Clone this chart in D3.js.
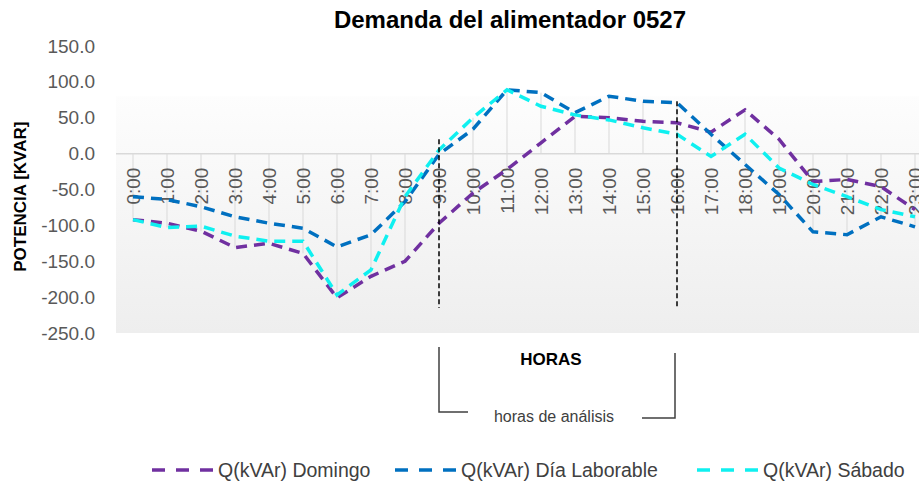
<!DOCTYPE html>
<html>
<head>
<meta charset="utf-8">
<script src="https://cdn.jsdelivr.net/npm/d3@7"></script>
<style>
  html, body { margin: 0; padding: 0; background: #ffffff; }
  svg { display: block; font-family: "Liberation Sans", Arial, sans-serif; }
</style>
</head>
<body>
<svg id="grafico" width="919" height="485"></svg>
<script>
// datos
const horas = ["0:00","1:00","2:00","3:00","4:00","5:00","6:00","7:00","8:00","9:00","10:00","11:00",
  "12:00","13:00","14:00","15:00","16:00","17:00","18:00","19:00","20:00","21:00","22:00","23:00"];

const domingo = [-92, -97, -108, -131, -125, -139, -201, -171, -150, -97, -55, -22,
  15, 52, 50, 45, 43, 30, 61, 20, -39, -36, -46, -78];
const laborable = [-60, -64, -74, -88, -97, -104, -130, -113, -67, -1, 34, 89,
  85, 57, 80, 73, 71, 27, -15, -57, -109, -113, -88, -102];
const sabado = [-92, -103, -101, -115, -122, -122, -197, -162, -60, 5, 50, 89,
  66, 54, 47, 36, 27, -4, 27, -20, -43, -60, -78, -88];

const yTicks = [150, 100, 50, 0, -50, -100, -150, -200, -250];

const series = [
  { nombre: "Q(kVAr) Domingo", valores: domingo, color: "#7030A0" },
  { nombre: "Q(kVAr) Día Laborable", valores: laborable, color: "#0070C0" },
  { nombre: "Q(kVAr) Sábado", valores: sabado, color: "#0FF0F0" },
];

// lineas verticales de las horas de analisis
const marcas = [
  { hora: "9:00", arriba: 20, abajo: -215 },
  { hora: "16:00", arriba: 73, abajo: -215 },
];

const svg = d3.select("#grafico");

const x = d3.scalePoint().domain(horas).range([133, 915]);
const y = d3.scaleLinear().domain([-250, 150]).range([333, 46]);

// fondo con degradado
const defs = svg.append("defs");
const grad = defs.append("linearGradient")
  .attr("id", "fondo")
  .attr("x1", 0).attr("y1", 0).attr("x2", 0).attr("y2", 1);
grad.append("stop").attr("offset", "0%").attr("stop-color", "#fdfdfd");
grad.append("stop").attr("offset", "100%").attr("stop-color", "#eeeeee");

svg.append("rect")
  .attr("x", 116)
  .attr("y", y(80))
  .attr("width", 919 - 116)
  .attr("height", y(-250) - y(80))
  .attr("fill", "url(#fondo)");

// titulo
svg.append("text")
  .attr("x", 510)
  .attr("y", 28)
  .attr("text-anchor", "middle")
  .style("font-size", "24px")
  .style("font-weight", "bold")
  .style("fill", "#000")
  .text("Demanda del alimentador 0527");

// eje y (guion normal como en Excel)
const formato = (d) => d.toFixed(1);
const yAxis = svg.append("g")
  .attr("transform", "translate(95,0)")
  .call(d3.axisLeft(y).tickValues(yTicks).tickSize(0).tickPadding(0).tickFormat(formato));
yAxis.select(".domain").remove();
yAxis.selectAll("text")
  .style("font-size", "19px")
  .style("font-family", "'Liberation Sans', Arial, sans-serif")
  .attr("fill", "#595959");

svg.append("text")
  .attr("transform", `translate(20,${y(-60)}) rotate(-90)`)
  .attr("text-anchor", "middle")
  .attr("dominant-baseline", "central")
  .style("font-size", "17px")
  .style("font-weight", "bold")
  .style("fill", "#000")
  .text("POTENCIA [KVAR]");

// lineas de caida por hora
svg.append("g")
  .selectAll("line")
  .data(horas)
  .join("line")
  .attr("x1", (h) => x(h))
  .attr("x2", (h) => x(h))
  .attr("y1", (h, i) => y(Math.max(0, d3.max(series, (s) => s.valores[i]))))
  .attr("y2", (h, i) => y(Math.min(0, d3.min(series, (s) => s.valores[i]))))
  .attr("stroke", "#d9d9d9")
  .attr("stroke-width", 1);

// eje horizontal en cero
svg.append("line")
  .attr("x1", 116)
  .attr("x2", 919)
  .attr("y1", y(0))
  .attr("y2", y(0))
  .attr("stroke", "#d9d9d9")
  .attr("stroke-width", 1.5);

// etiquetas de horas
svg.append("g")
  .selectAll("text")
  .data(horas)
  .join("text")
  .attr("transform", (h) => `translate(${x(h)},${y(0) + 14}) rotate(-90)`)
  .attr("text-anchor", "end")
  .attr("dominant-baseline", "central")
  .style("font-size", "19px")
  .style("fill", "#595959")
  .text((h) => h);

// series
const linea = d3.line()
  .x((v, i) => x(horas[i]))
  .y((v) => y(v));

svg.append("g")
  .selectAll("path")
  .data(series)
  .join("path")
  .attr("d", (s) => linea(s.valores))
  .attr("fill", "none")
  .attr("stroke", (s) => s.color)
  .attr("stroke-width", 3.5)
  .attr("stroke-dasharray", "11,7");

// marcas de horas de analisis
svg.append("g")
  .selectAll("line")
  .data(marcas)
  .join("line")
  .attr("x1", (m) => x(m.hora))
  .attr("x2", (m) => x(m.hora))
  .attr("y1", (m) => y(m.arriba))
  .attr("y2", (m) => y(m.abajo))
  .attr("stroke", "#000")
  .attr("stroke-width", 1.5)
  .attr("stroke-dasharray", "5,3");

// corchete inferior
const xi = x("9:00");
const xf = x("16:00") - 2;
svg.append("path")
  .attr("d", `M${xi},347 V412 H${xi + 29}`)
  .attr("fill", "none")
  .attr("stroke", "#404040")
  .attr("stroke-width", 1.5);
svg.append("path")
  .attr("d", `M${xf - 33},418 H${xf} V353`)
  .attr("fill", "none")
  .attr("stroke", "#404040")
  .attr("stroke-width", 1.5);

svg.append("text")
  .attr("x", 551)
  .attr("y", 365)
  .attr("text-anchor", "middle")
  .style("font-size", "17px")
  .style("font-weight", "bold")
  .style("fill", "#000")
  .text("HORAS");

svg.append("text")
  .attr("x", 554)
  .attr("y", 422)
  .attr("text-anchor", "middle")
  .style("font-size", "16px")
  .style("fill", "#404040")
  .text("horas de análisis");

// leyenda
const legendX = [152, 395, 697];
const legend = svg.append("g")
  .selectAll("g")
  .data(series)
  .join("g")
  .attr("transform", (d, i) => `translate(${legendX[i]},470)`);

legend.append("line")
  .attr("x1", 0)
  .attr("x2", 61)
  .attr("stroke", (d) => d.color)
  .attr("stroke-width", 3.5)
  .attr("stroke-dasharray", "13,11");

legend.append("text")
  .attr("x", 66)
  .attr("dominant-baseline", "central")
  .style("font-size", "19.5px")
  .style("fill", "#404040")
  .text((d) => d.nombre);
</script>
</body>
</html>
